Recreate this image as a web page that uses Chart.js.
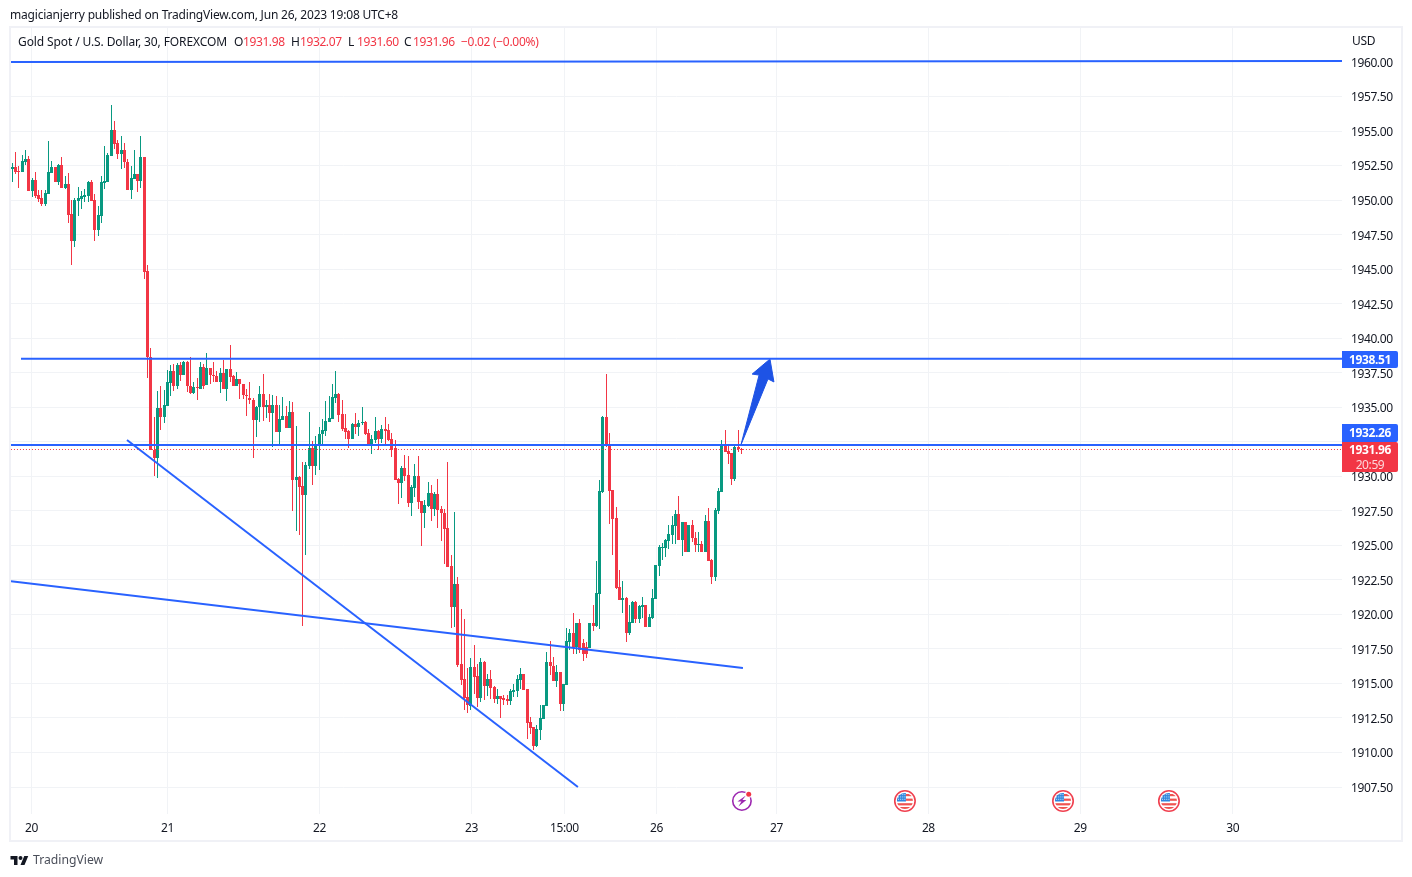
<!DOCTYPE html>
<html><head><meta charset="utf-8">
<script src="https://cdn.jsdelivr.net/npm/chart.js@4"></script>
<style>
html,body{margin:0;padding:0;background:#fff;width:1412px;height:877px;overflow:hidden}
body{font-family:"Noto Sans",sans-serif;font-size:12px;color:#131722;position:relative}
#frame{position:absolute;left:9px;top:26px;width:1390px;height:812px;border:2px solid #F0F1F6}
canvas{position:absolute;left:0;top:0}
.t{position:absolute;white-space:nowrap;line-height:16px}
.r{color:#F23645;letter-spacing:-.4px}
.tag{position:absolute;left:1342px;width:56px;color:#fff;font-weight:700;text-align:center;border-radius:0 2px 2px 0;line-height:17px;letter-spacing:-.4px}
</style></head><body>
<div id="frame"></div>
<canvas id="c" width="1412" height="877"></canvas>
<div class="t" style="left:10px;top:7px;letter-spacing:-.2px" id="pub">magicianjerry published on TradingView.com, Jun 26, 2023 19:08 UTC+8</div>
<div class="t" style="left:18px;top:34px;letter-spacing:-.11px">Gold Spot / U.S. Dollar, 30, FOREXCOM</div>
<div class="t" style="left:234px;top:34px">O</div><div class="t r" style="left:243px;top:34px">1931.98</div>
<div class="t" style="left:291px;top:34px">H</div><div class="t r" style="left:300px;top:34px">1932.07</div>
<div class="t" style="left:348px;top:34px">L</div><div class="t r" style="left:357px;top:34px">1931.60</div>
<div class="t" style="left:404px;top:34px">C</div><div class="t r" style="left:413px;top:34px">1931.96</div>
<div class="t r" style="left:461px;top:34px;letter-spacing:-.3px">−0.02 (−0.00%)</div>
<div class="t" style="left:1352px;top:33px;letter-spacing:-.3px">USD</div>
<svg style="position:absolute;left:10px;top:854px" width="19" height="11" viewBox="0 0 36 22"><path fill="#131722" d="M14 22H7V11H0V4h14v18zM28 22h-8l7.5-18h8L28 22z"/><circle fill="#131722" cx="20" cy="8" r="4"/></svg>
<div class="t" style="left:33px;top:852px;font-size:12.2px;color:#4a4e59">TradingView</div>
<script>
const opens=[1952.23,1952.38,1952.09,1952.02,1952.74,1952.96,1950.64,1951.44,1950.35,1950.13,
1949.70,1950.42,1951.94,1952.38,1951.29,1952.52,1950.86,1951.15,1948.97,1947.02,
1949.92,1950.06,1950.21,1950.28,1951.29,1949.99,1947.81,1948.83,1951.22,1951.29,
1953.18,1955.06,1954.12,1953.32,1953.61,1952.74,1950.71,1951.51,1951.87,1951.37,
1953.10,1944.84,1938.62,1931.91,1931.33,1934.95,1934.30,1935.09,1936.76,1937.63,
1936.54,1938.06,1937.34,1938.28,1936.54,1936.03,1936.47,1936.32,1937.92,1936.61,
1937.84,1937.34,1937.26,1936.83,1937.48,1936.32,1937.77,1937.26,1936.54,1937.05,
1936.68,1935.89,1935.67,1935.53,1934.08,1935.02,1935.96,1935.02,1935.16,1934.59,
1935.16,1933.20,1934.08,1934.37,1933.50,1934.66,1929.73,1929.95,1929.30,1928.65,
1930.75,1932.05,1930.75,1932.19,1933.06,1933.28,1933.93,1934.15,1935.67,1935.96,
1934.51,1933.50,1933.28,1932.70,1933.79,1933.57,1933.86,1933.93,1933.14,1932.27,
1932.63,1933.28,1932.70,1933.43,1933.35,1932.70,1932.05,1929.81,1929.52,1930.60,
1930.10,1928.07,1929.16,1930.02,1928.21,1927.35,1927.85,1928.79,1927.64,1928.72,
1927.64,1927.35,1926.26,1923.51,1920.54,1922.21,1916.42,1915.33,1914.03,1913.38,
1916.20,1915.55,1913.96,1916.56,1914.82,1915.33,1914.75,1913.88,1914.10,1913.96,
1913.88,1913.74,1914.39,1914.46,1915.26,1915.69,1914.61,1912.22,1911.86,1910.48,
1911.64,1912.44,1913.38,1916.56,1916.27,1915.19,1915.84,1913.52,1914.90,1918.01,
1918.66,1917.65,1919.38,1917.94,1917.65,1917.58,1919.39,1919.17,1921.48,1928.87,
1934.30,1932.27,1929.01,1926.98,1921.99,1921.05,1921.20,1918.66,1919.39,1920.91,
1919.67,1920.54,1920.69,1919.10,1919.75,1921.12,1923.51,1924.81,1924.81,1925.32,
1925.76,1926.41,1927.28,1925.39,1926.70,1924.53,1926.48,1925.54,1925.03,1925.10,
1924.53,1926.77,1923.95,1922.72,1927.49,1928.87,1932.27,1931.84,1931.69,1929.81,
1932.13,1931.98];
const highs=[1952.67,1953.47,1952.45,1953.25,1953.61,1953.18,1951.58,1952.02,1950.71,1950.71,
1950.71,1954.26,1952.81,1952.38,1952.60,1953.10,1951.73,1951.94,1949.99,1950.13,
1950.93,1950.64,1950.79,1951.37,1951.44,1950.42,1949.55,1951.73,1953.90,1953.39,
1956.87,1955.71,1954.34,1954.63,1954.12,1952.96,1952.45,1953.61,1951.87,1954.63,
1953.10,1945.28,1939.27,1934.27,1936.15,1936.54,1936.25,1937.70,1938.06,1938.13,
1938.20,1938.28,1938.35,1938.35,1938.64,1936.83,1937.12,1938.28,1938.13,1938.93,
1937.84,1938.28,1937.63,1937.84,1938.42,1937.77,1939.51,1937.34,1937.55,1937.05,
1936.68,1936.32,1936.83,1935.67,1935.09,1936.54,1937.41,1935.53,1935.96,1935.89,
1935.82,1935.16,1935.74,1935.09,1935.45,1935.38,1933.64,1930.02,1931.04,1931.04,
1934.66,1932.56,1932.92,1933.57,1934.15,1935.45,1935.81,1936.68,1937.62,1936.03,
1935.52,1934.51,1933.35,1933.86,1934.58,1934.08,1935.02,1934.00,1933.43,1932.99,
1934.29,1933.35,1933.71,1934.29,1933.79,1933.14,1932.63,1929.88,1930.75,1931.54,
1931.47,1929.37,1930.89,1931.47,1928.21,1928.29,1929.59,1929.37,1928.87,1929.81,
1927.85,1927.64,1931.04,1924.30,1927.42,1922.71,1920.40,1919.67,1916.13,1916.85,
1917.79,1916.42,1916.85,1916.63,1915.69,1915.98,1914.82,1914.61,1914.10,1914.17,
1914.17,1914.61,1914.97,1915.62,1916.13,1915.69,1914.61,1912.58,1911.86,1912.00,
1913.45,1913.45,1917.29,1918.08,1916.92,1916.34,1915.84,1914.97,1919.02,1918.95,
1920.11,1919.38,1919.67,1918.23,1918.01,1919.38,1920.69,1923.87,1929.74,1934.37,
1937.41,1933.14,1929.01,1927.78,1923.22,1922.43,1921.27,1920.69,1920.98,1920.98,
1920.69,1921.27,1920.69,1920.04,1921.85,1923.58,1925.03,1925.18,1925.47,1926.48,
1927.13,1927.57,1928.58,1926.70,1926.70,1926.48,1926.84,1925.97,1925.97,1925.32,
1927.20,1927.71,1924.02,1927.71,1929.16,1932.63,1933.36,1932.34,1931.69,1932.27,
1933.36,1932.07];
const lows=[1951.29,1951.87,1950.86,1952.02,1952.52,1950.64,1950.21,1950.13,1949.84,1949.55,
1949.55,1950.42,1951.94,1951.29,1951.08,1950.86,1950.79,1948.32,1945.28,1946.58,
1948.83,1949.34,1949.84,1949.84,1949.92,1947.02,1947.38,1948.32,1950.79,1951.29,
1953.18,1953.68,1952.96,1952.23,1952.31,1950.71,1950.06,1951.51,1950.57,1950.86,
1944.26,1937.09,1931.86,1930.03,1929.83,1933.35,1933.86,1935.09,1935.82,1936.18,
1936.32,1936.90,1937.34,1936.11,1935.96,1935.96,1935.53,1936.32,1936.32,1936.61,
1936.68,1936.83,1936.83,1936.03,1936.32,1935.45,1936.83,1936.54,1936.54,1935.60,
1935.60,1934.37,1935.24,1931.33,1932.85,1933.93,1934.00,1934.23,1933.93,1932.12,
1933.20,1932.27,1934.08,1933.50,1933.50,1927.49,1926.04,1925.75,1919.17,1924.31,
1930.53,1929.37,1930.10,1930.46,1932.19,1932.92,1933.93,1934.15,1935.31,1933.93,
1933.28,1932.70,1932.05,1932.70,1933.06,1932.92,1933.71,1932.99,1932.19,1931.62,
1932.41,1931.90,1932.41,1932.27,1932.56,1931.40,1929.73,1928.00,1928.43,1929.66,
1927.78,1927.13,1928.50,1927.64,1924.96,1926.26,1927.78,1926.77,1927.13,1926.26,
1925.32,1923.65,1923.44,1919.02,1919.09,1916.20,1914.90,1913.09,1912.87,1913.09,
1914.25,1913.30,1913.67,1913.81,1914.10,1913.88,1913.59,1913.52,1912.51,1913.45,
1913.45,1913.45,1914.03,1914.03,1914.61,1914.53,1910.99,1911.35,1910.19,1910.41,
1910.92,1912.44,1913.38,1915.62,1915.19,1914.75,1913.02,1913.02,1914.90,1917.43,
1917.14,1917.14,1917.21,1916.63,1916.85,1917.58,1918.81,1919.10,1918.95,1928.80,
1932.13,1926.55,1924.31,1921.85,1921.05,1920.11,1918.01,1918.52,1919.39,1919.39,
1919.39,1919.75,1919.10,1919.10,1919.67,1921.12,1922.79,1923.95,1924.16,1924.74,
1925.10,1925.10,1925.39,1924.24,1924.53,1924.53,1925.25,1924.53,1924.53,1924.53,
1924.53,1923.87,1922.21,1922.43,1927.28,1928.87,1931.76,1930.90,1929.38,1929.66,
1931.76,1931.60];
const closes=[1952.38,1952.04,1952.02,1952.81,1952.96,1950.64,1951.44,1950.28,1950.06,1949.70,
1950.50,1952.02,1952.38,1951.29,1952.52,1950.86,1951.15,1948.90,1947.02,1949.99,
1950.13,1950.28,1950.35,1951.29,1949.92,1947.81,1948.90,1951.29,1951.37,1953.25,
1955.06,1954.05,1953.32,1953.61,1952.74,1950.71,1951.58,1951.87,1951.37,1953.10,
1944.77,1938.62,1931.86,1931.33,1934.95,1934.30,1935.16,1936.83,1937.63,1936.54,
1938.06,1937.34,1938.28,1936.54,1936.03,1936.47,1936.40,1937.92,1936.54,1937.84,
1937.34,1937.26,1936.83,1937.48,1936.32,1937.77,1937.19,1936.54,1937.05,1936.68,
1935.89,1935.82,1935.53,1934.08,1935.02,1935.96,1935.02,1935.16,1934.59,1935.16,
1933.20,1934.15,1934.37,1933.50,1934.66,1929.73,1929.95,1929.23,1928.65,1930.82,
1932.05,1930.75,1932.27,1933.06,1933.35,1934.00,1934.22,1935.74,1935.96,1934.44,
1933.43,1933.21,1932.70,1933.79,1933.57,1933.86,1933.93,1933.06,1932.27,1932.70,
1933.28,1932.70,1933.43,1933.28,1932.63,1931.90,1929.73,1929.52,1930.60,1930.02,
1928.07,1929.23,1930.02,1928.14,1927.35,1927.92,1928.79,1927.64,1928.72,1927.56,
1927.35,1926.19,1923.44,1920.54,1922.21,1916.34,1915.26,1913.96,1913.45,1916.20,
1915.48,1913.96,1916.56,1914.82,1915.33,1914.68,1913.88,1914.10,1913.88,1913.81,
1913.74,1914.46,1914.53,1915.33,1915.69,1914.53,1912.15,1911.78,1910.48,1911.71,
1912.51,1913.45,1916.56,1916.27,1915.19,1915.84,1913.52,1914.97,1918.08,1918.66,
1917.65,1919.38,1917.43,1917.14,1917.14,1919.38,1919.17,1921.56,1928.94,1934.30,
1932.20,1928.94,1926.91,1921.92,1921.05,1921.20,1918.66,1919.46,1920.91,1919.67,
1920.62,1920.69,1919.10,1919.82,1921.20,1923.58,1924.89,1924.89,1925.39,1925.83,
1926.48,1927.28,1925.39,1926.70,1924.53,1926.48,1925.54,1925.03,1925.10,1924.53,
1926.77,1923.87,1922.72,1927.57,1928.94,1932.27,1931.76,1931.62,1929.81,1932.13,
1931.98,1931.96];

const yTicks=[1907.5,1910,1912.5,1915,1917.5,1920,1922.5,1925,1927.5,1930,1932.5,1935,1937.5,1940,1942.5,1945,1947.5,1950,1952.5,1955,1957.5,1960];
const xTickPos=[5.8,47.03,93.09,139.15,167.3,195.2,231.6,277.6,323.6,369.8];
const xTickLabels=["20","21","22","23","15:00","26","27","28","29","30"];

const topLine=[{x:-0.4,y:1960},{x:402.94,y:1960.08}];
const resistLine=[{x:2.64,y:1938.51},{x:402.94,y:1938.51}];
const supportLine=[{x:-0.4,y:1932.26},{x:402.94,y:1932.26}];
const lastPriceLine=[{x:-0.4,y:1931.94},{x:402.94,y:1931.94}];
const wedgeLow=[{x:34.76,y:1932.63},{x:171.4,y:1907.5}];
const wedgeHigh=[{x:-0.4,y:1922.4},{x:221.4,y:1916.12}];
const arrowShape=[{x:220.8,y:1932.27},{x:226.3,y:1937.33},{x:224.2,y:1937.4},{x:229.6,y:1938.49},{x:230.8,y:1936.83},{x:229,y:1937.05},{x:220.8,y:1932.27}];

const newsEvents=[221.1,270.5,318.4,350.5];
const newsKinds=["bolt","us","us","us"];

const UP="#089981",DOWN="#F23645",BLUE="#2962FF",GRID="#F1F3F6";
const colors=opens.map((o,i)=>closes[i]>=o?UP:DOWN);
const wickData=opens.map((o,i)=>({x:i,y:[lows[i],highs[i]]}));
const bodyData=opens.map((o,i)=>({x:i,y:[Math.min(o,closes[i]),Math.max(o,closes[i])]}));
const lineDs=(data,extra)=>Object.assign({type:"line",data,borderColor:BLUE,borderWidth:2,pointRadius:0,tension:0,fill:false,order:1},extra||{});

const snap={id:"snap",
 beforeDraw(ch){ch.ctx.letterSpacing="-0.4px";},
 beforeDatasetDraw(ch,a){ if(a.meta.type!=="bar")return; const c=ch.ctx;
  c.rect=function(x,y,w,h){ CanvasRenderingContext2D.prototype.rect.call(this,Math.round(x),Math.round(y),Math.round(w),Math.max(1,Math.round(h))); }; },
 afterDatasetDraw(ch,a){ if(a.meta.type!=="bar")return; delete ch.ctx.rect; }
};
function drawBolt(c,x,y){
 c.save();c.strokeStyle="#9C27B0";c.lineWidth=1.6;c.beginPath();c.arc(x,y,9.2,0,Math.PI*2);c.stroke();
 c.fillStyle="#9C27B0";c.beginPath();c.moveTo(x+4,y-5.5);c.lineTo(x-4.5,y+0.5);c.lineTo(x-0.5,y+0.5);c.lineTo(x-3.5,y+5.5);c.lineTo(x+4.5,y-1);c.lineTo(x+0.5,y-1);c.closePath();c.fill();
 c.fillStyle="#fff";c.beginPath();c.arc(x+6.8,y-6.8,3.6,0,Math.PI*2);c.fill();
 c.fillStyle=DOWN;c.beginPath();c.arc(x+6.8,y-6.8,2.5,0,Math.PI*2);c.fill();c.restore();
}
function drawFlag(c,x,y){
 c.save();c.strokeStyle="#F0404F";c.lineWidth=1.6;c.beginPath();c.arc(x,y,10.2,0,Math.PI*2);c.stroke();
 c.save();c.beginPath();c.arc(x,y,8,0,Math.PI*2);c.clip();
 c.fillStyle="#fff";c.fillRect(x-9,y-9,18,18);
 c.fillStyle="#EF5350";[-7,-2.4,2.2,6].forEach((d,i)=>c.fillRect(x-9,y+d,18,i==3?3:2.2));
 c.fillStyle="#2E86DE";c.fillRect(x-9,y-9,10,9.5);
 c.fillStyle="#fff";for(let i=0;i<4;i++)for(let j=0;j<3;j++)c.fillRect(x-6.8+i*2.1,y-6.8+j*2.3,.9,.9);
 c.restore();c.restore();
}
const events={id:"events",afterDraw(ch){
 const c=ch.ctx,y=ch.chartArea.bottom-13;
 newsEvents.forEach((v,i)=>{const x=ch.scales.x.getPixelForValue(v); newsKinds[i]==="bolt"?drawBolt(c,x,y):drawFlag(c,x,y);});
}};

const chart=new Chart(document.getElementById("c"),{
 type:"bar",
 data:{datasets:[
  {data:wickData,backgroundColor:colors,barThickness:1,maxBarThickness:1,borderWidth:0,inflateAmount:0,grouped:false,order:3},
  {data:bodyData,backgroundColor:colors,barThickness:3,maxBarThickness:3,borderWidth:0,inflateAmount:0,grouped:false,order:2},
  lineDs(lastPriceLine,{borderColor:DOWN,borderWidth:1,borderDash:[1,2]}),
  lineDs(topLine),lineDs(resistLine),lineDs(supportLine),lineDs(wedgeLow),lineDs(wedgeHigh),
  lineDs(arrowShape,{borderColor:"#1E53E5",borderWidth:1,backgroundColor:"#1E53E5",fill:"shape"})
 ]},
 plugins:[snap,events],
 options:{responsive:false,animation:false,devicePixelRatio:1,
  layout:{padding:{left:11,right:11,top:28,bottom:37}},
  plugins:{legend:{display:false},tooltip:{enabled:false},title:{display:false}},
  scales:{
   x:{type:"linear",offset:false,min:-0.39,max:402.94,
    grid:{color:GRID,lineWidth:1,offset:false,drawTicks:false},border:{display:false},
    afterBuildTicks(s){s.ticks=xTickPos.map(v=>({value:v}));},
    afterFit(s){s.height=26;},
    ticks:{autoSkip:false,maxRotation:0,padding:7,color:"#131722",font:{family:"Noto Sans",size:12},
     callback(v){const i=xTickPos.indexOf(v);return i<0?"":xTickLabels[i];}}},
   y:{position:"right",min:1905.545,max:1962.462,
    grid:{color:GRID,lineWidth:1,drawTicks:false},border:{display:false},
    afterBuildTicks(s){s.ticks=yTicks.map(v=>({value:v}));},
    afterFit(s){s.width=59;},
    ticks:{autoSkip:false,padding:9,labelOffset:1.5,color:"#131722",font:{family:"Noto Sans",size:12},callback:v=>v.toFixed(2)}}
  }
 }
});

function addTag(text,top,color,h,second){
 const d=document.createElement("div");d.className="tag";d.style.background=color;d.style.height=h+"px";
 d.style.top=top+"px";
 if(second)d.style.lineHeight="16px";
 d.innerHTML=text+(second?'<br><span style="font-weight:400;color:rgba(255,255,255,.8);line-height:13px;display:block">'+second+'</span>':"");
 document.body.appendChild(d);
}
const yPx=v=>Math.round(chart.scales.y.getPixelForValue(v));
const lastTop=yPx(1931.96)-7;
addTag("1938.51",yPx(1938.51)-8,BLUE,17);
addTag("1932.26",lastTop-18,BLUE,18);
addTag("1931.96",lastTop,DOWN,30,"20:59");
</script>
</body></html>
